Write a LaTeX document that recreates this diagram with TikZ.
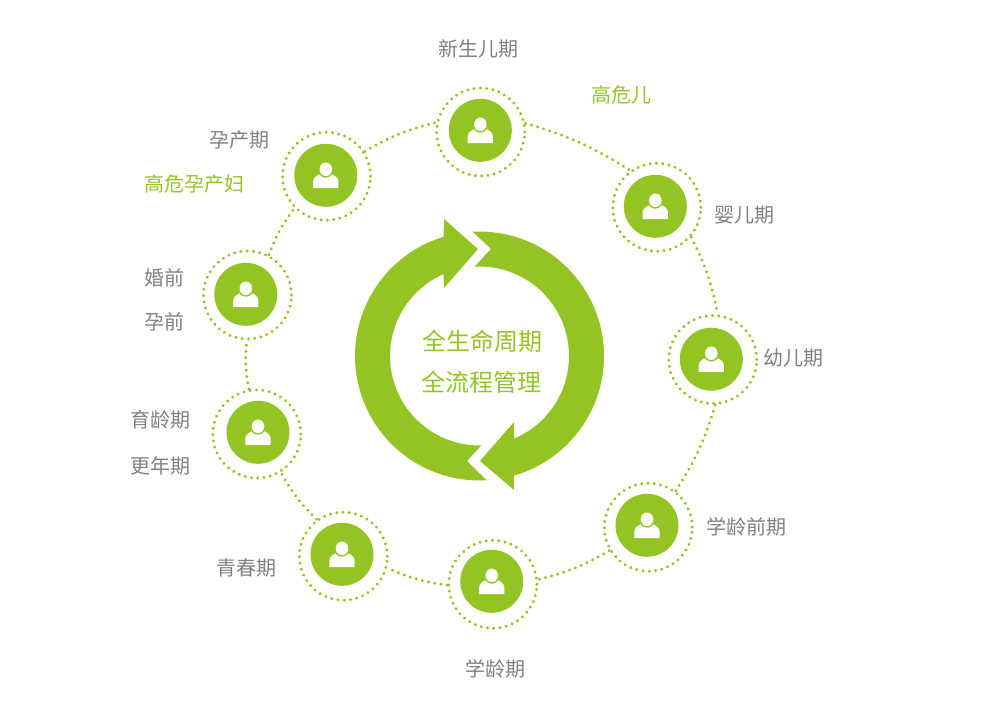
\documentclass[tikz,border=0pt]{standalone}
\usepackage{fontspec}
\newfontfamily\cjk{Noto Sans CJK SC}
\definecolor{lgreen}{HTML}{93C424}
\definecolor{lgrey}{HTML}{808080}
\tikzset{
  ring/.style={circle,minimum size=88pt,inner sep=0pt,draw=lgreen,line width=3.3pt,line cap=round,dash pattern=on 0.01pt off 6.3pt},
  disc/.style={circle,minimum size=63pt,inner sep=0pt,fill=lgreen},
  link/.style={draw=lgreen,line width=3.3pt,line cap=round,dash pattern=on 0.01pt off 6.3pt},
  lab/.style={font=\cjk\fontsize{20}{20}\selectfont,text=lgrey,inner sep=0pt},
  glab/.style={font=\cjk\fontsize{20}{20}\selectfont,text=lgreen,inner sep=0pt},
  ctr/.style={font=\cjk\fontsize{24}{24}\selectfont,text=lgreen,inner sep=0pt},
  person/.pic={
    \fill[white] (-12.6,12.7) -- (-12.6,6) .. controls (-12.6,2) and (-8,-0.5) .. (-5,-1.5) -- (5,-1.5) .. controls (8,-0.5) and (12.6,2) .. (12.6,6) -- (12.6,12.7) -- cycle;
    \fill[lgreen] (0,-5.6) ellipse [x radius=7.6,y radius=8];
    \fill[white] (0,-6) ellipse [x radius=6.3,y radius=6.8];
  }
}
\begin{document}
\begin{tikzpicture}[x=1pt,y=-1pt]
\useasboundingbox (0,0) rectangle (1000,705);
\foreach \n/\x/\y/\u/\v in {a/480.3/130.3/480.7/132,b/655.3/206.3/656.8/207.3,c/711.3/359.2/712.8/359.5,d/647/525.3/648.3/527.2,e/491.7/581.3/492.8/584.3,f/342/554.3/343.3/556.2,g/258/432.3/256.8/434,h/245.8/294.3/247.5/295,i/325.8/175.3/326.5/176.2}{
  \node[ring] (\n) at (\u,\v) {};
  \node[disc] (\n0) at (\x,\y) {};
  \pic at (\x,\y) {person};
}
\foreach \p/\s/\q/\t in {a/11.5/b/126.4,b/-41.3/c/84.7,c/-87/d/53,d/211.8/e/6.5,e/181/f/-15,f/126.5/g/-58.8,g/100/h/-91,h/62.9/i/225,i/33.9/a/168.4}{
  \draw[link] (\p.\s) to[bend left=8] (\q.\t);
}
\fill[lgreen] plot[domain=-93.2:74,samples=60] ({479.5+124.5*cos(\x)},{356+124.5*sin(\x)})
  -- (514,490) -- (480,461) -- (514,422)
  -- plot[domain=67.2:-93.2,samples=60] ({479.5+89.5*cos(\x)},{356+89.5*sin(\x)})
  -- (491,249) -- cycle;
\fill[lgreen] plot[domain=86.7:253.2,samples=60] ({479.5+124.5*cos(\x)},{356+124.5*sin(\x)})
  -- (444,219) -- (478,249) -- (444,288)
  -- plot[domain=246.3:88.9,samples=60] ({479.5+89.5*cos(\x)},{356+89.5*sin(\x)})
  -- (467,461) -- cycle;
\node[ctr] (t1) at (482,341) {全生命周期};
\node[ctr] (t2) at (481,382) {全流程管理};
\node[lab] (l1) at (478,48.7) {新生儿期};
\node[glab] (l2) at (621,94.7) {高危儿};
\node[lab] (l3) at (744,215) {婴儿期};
\node[lab] (l4) at (793,358) {幼儿期};
\node[lab] (l5) at (746,527) {学龄前期};
\node[lab] (l6) at (495,668.5) {学龄期};
\node[lab] (l7) at (246.5,568) {青春期};
\node[lab] (l8) at (160,419.5) {育龄期};
\node[lab] (l9) at (160,466) {更年期};
\node[lab] (l10) at (164,277.7) {婚前};
\node[lab] (l11) at (164,321.7) {孕前};
\node[lab] (l12) at (239,139.5) {孕产期};
\node[glab] (l13) at (194,184) {高危孕产妇};
\end{tikzpicture}
\end{document}
